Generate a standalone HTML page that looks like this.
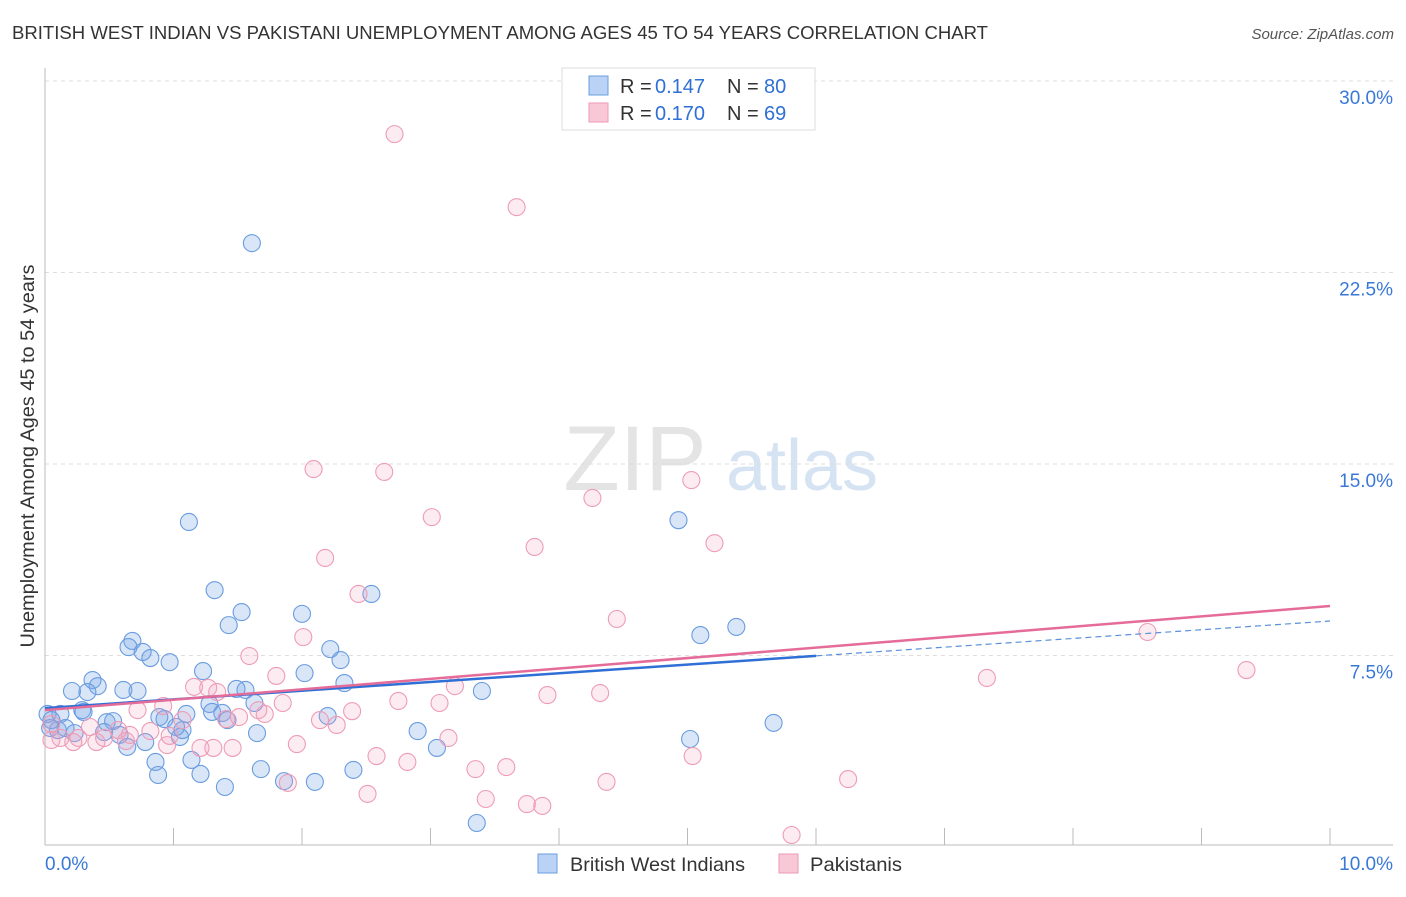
<!DOCTYPE html>
<html><head><meta charset="utf-8"><style>
body{margin:0;background:#fff;font-family:"Liberation Sans",sans-serif}
svg text{font-family:"Liberation Sans",sans-serif}
</style></head><body>
<svg id="chart" width="1406" height="892" xmlns="http://www.w3.org/2000/svg">
<text x="12" y="39" font-size="18.5" fill="#333" textLength="976" lengthAdjust="spacingAndGlyphs">BRITISH WEST INDIAN VS PAKISTANI UNEMPLOYMENT AMONG AGES 45 TO 54 YEARS CORRELATION CHART</text>
<text x="1394" y="39" font-size="15" fill="#555" text-anchor="end" font-style="italic">Source: ZipAtlas.com</text>
<g>
<text x="635" y="490" font-size="92" fill="#e4e4e4" text-anchor="middle" font-family="Liberation Serif">ZIP</text>
<text x="802" y="490" font-size="72" fill="#d6e3f3" text-anchor="middle">atlas</text>
</g>
<g id="grid"></g>
<g id="axes"></g>
<g id="blue"></g>
<g id="pink"></g>
<g id="trends"></g>
<text transform="translate(34,456) rotate(-90)" font-size="19" fill="#333" text-anchor="middle" textLength="383" lengthAdjust="spacingAndGlyphs">Unemployment Among Ages 45 to 54 years</text>
<g>
<rect x="562" y="68" width="253" height="62" fill="#fff" stroke="#ddd"/>
<rect x="589" y="76" width="19" height="19" fill="#b9d2f5" stroke="#6a9ee0"/>
<rect x="589" y="103" width="19" height="19" fill="#f9c8d7" stroke="#ee9ab5"/>
<text y="93" font-size="20" fill="#333"><tspan x="620">R =</tspan><tspan x="655" fill="#2f6fd6">0.147</tspan><tspan x="727">N =</tspan><tspan x="764" fill="#2f6fd6">80</tspan></text>
<text y="120" font-size="20" fill="#333"><tspan x="620">R =</tspan><tspan x="655" fill="#2f6fd6">0.170</tspan><tspan x="727">N =</tspan><tspan x="764" fill="#2f6fd6">69</tspan></text>
</g>
<g>
<rect x="538" y="854" width="19" height="19" fill="#b9d2f5" stroke="#6a9ee0"/>
<text x="570" y="871" font-size="19.5" fill="#333" textLength="175" lengthAdjust="spacingAndGlyphs">British West Indians</text>
<rect x="779" y="854" width="19" height="19" fill="#f9c8d7" stroke="#ee9ab5"/>
<text x="810" y="871" font-size="19.5" fill="#333" textLength="92" lengthAdjust="spacingAndGlyphs">Pakistanis</text>
</g>
</svg>
<script>
const yTicks=[7.5,15,22.5,30];
const yTickLabels=["7.5%","15.0%","22.5%","30.0%"];
const xTicks=[0,1,2,3,4,5,6,7,8,9,10];
const xEndLabels=["0.0%","10.0%"];
const blueX=[1.61,1.12,4.93,1.32,1.43,1.53,2.00,2.54,0.68,0.65,0.76,0.82,0.97,1.23,2.02,2.22,2.30,2.33,0.37,0.41,0.21,0.61,0.72,0.33,1.49,1.56,1.63,1.28,1.30,1.38,1.10,0.93,0.89,0.48,0.53,0.29,0.12,0.02,0.04,0.10,0.30,0.46,0.58,0.64,0.78,1.05,1.07,1.65,1.02,1.14,0.86,0.88,1.21,1.40,1.68,1.86,2.10,2.40,2.90,3.05,3.40,5.10,5.38,5.67,5.02,3.36,2.20,1.42,0.05,0.16,0.23];
const blueY=[23.65,12.73,12.80,10.06,8.69,9.20,9.13,9.91,8.07,7.83,7.64,7.40,7.24,6.89,6.81,7.75,7.32,6.42,6.54,6.30,6.11,6.15,6.11,6.07,6.19,6.15,5.64,5.60,5.29,5.25,5.21,5.01,5.09,4.89,4.93,5.36,5.21,5.21,4.66,4.58,5.29,4.50,4.39,3.92,4.11,4.31,4.58,4.46,4.70,3.41,3.33,2.82,2.86,2.35,3.05,2.58,2.55,3.02,4.54,3.88,6.11,8.30,8.62,4.86,4.23,0.94,5.13,4.97,4.97,4.66,4.46];
const pinkX=[2.72,3.67,2.09,2.64,5.03,4.26,3.01,3.81,5.21,2.18,2.44,4.45,2.01,8.58,9.35,7.33,1.59,1.80,3.19,1.16,1.27,1.34,1.71,1.85,1.66,1.51,1.41,2.75,3.07,3.91,4.32,2.39,2.14,2.27,0.92,0.72,3.14,1.96,2.58,2.82,3.35,3.59,5.04,2.51,3.43,3.75,3.87,4.37,6.25,5.81,1.31,1.46,1.21,0.95,0.82,0.63,0.66,0.40,0.26,0.22,0.12,0.05,0.05,0.35,0.46,1.07,1.89,0.97,0.57];
const pinkY=[27.92,25.06,14.80,14.69,14.37,13.67,12.92,11.75,11.90,11.32,9.91,8.93,8.22,8.42,6.93,6.62,7.48,6.70,6.30,6.27,6.23,6.07,5.21,5.64,5.36,5.09,5.01,5.72,5.64,5.95,6.03,5.32,4.97,4.78,5.52,5.36,4.27,4.03,3.56,3.33,3.05,3.13,3.56,2.08,1.88,1.68,1.61,2.55,2.66,0.47,3.88,3.88,3.88,3.99,4.54,4.15,4.39,4.11,4.27,4.11,4.27,4.19,4.82,4.70,4.27,4.97,2.51,4.35,4.58];
const blueTrend=[5.44,8.85];
const blueSolidEnd=6.0;
const pinkTrend=[5.36,9.44];
const NS="http://www.w3.org/2000/svg";
const X=v=>45+v*128.5, Y=v=>847-v*25.533;
function mk(tag,attrs,parent){const e=document.createElementNS(NS,tag);for(const k in attrs)e.setAttribute(k,attrs[k]);parent.appendChild(e);return e;}
const grid=document.getElementById('grid'),axes=document.getElementById('axes');
yTicks.forEach((t,i)=>{
 const l=mk('line',{x1:45,x2:1393,y1:Y(t),y2:Y(t),stroke:'#ddd','stroke-dasharray':'4,4'},grid);
 
 
 const tx=mk('text',{x:1393,y:Y(t)+23,'font-size':19,fill:'#3a78d8','text-anchor':'end'},grid);
 tx.textContent=yTickLabels[i];
 
 
});
const ax=mk('line',{x1:45,x2:45,y1:68,y2:845,stroke:'#bbb'},axes);


const bx=mk('line',{x1:45,x2:1393,y1:845,y2:845,stroke:'#bbb'},axes);


xTicks.forEach(t=>{
 const l=mk('line',{x1:X(t),x2:X(t),y1:828,y2:845,stroke:'#bbb'},axes);
 
 
});
const xl0=mk('text',{x:45,y:870,'font-size':19,fill:'#3a78d8'},axes);xl0.textContent=xEndLabels[0];


const xl1=mk('text',{x:1393,y:870,'font-size':19,fill:'#3a78d8','text-anchor':'end'},axes);xl1.textContent=xEndLabels[1];


function pts(xs,ys,g,fill,stroke,name){xs.forEach((x,i)=>{
 const c=mk('circle',{cx:X(x),cy:Y(ys[i]),r:8.5,fill:fill,stroke:stroke,'stroke-width':1.1},g);
 
 
});}
pts(blueX,blueY,document.getElementById('blue'),'rgba(120,165,230,0.28)','#6a9ce0','british-west-indian-point');
pts(pinkX,pinkY,document.getElementById('pink'),'rgba(240,160,190,0.2)','#ee9cb6','pakistani-point');
const tr=document.getElementById('trends');
const bAt=v=>blueTrend[0]+(blueTrend[1]-blueTrend[0])*v/10;
const b1=mk('line',{x1:X(0),y1:Y(bAt(0)),x2:X(blueSolidEnd),y2:Y(bAt(blueSolidEnd)),stroke:'#2f6fd6','stroke-width':2.5},tr);


const b2=mk('line',{x1:X(blueSolidEnd),y1:Y(bAt(blueSolidEnd)),x2:X(10),y2:Y(bAt(10)),stroke:'#5b90da','stroke-width':1.2,'stroke-dasharray':'6,4'},tr);


const p1=mk('line',{x1:X(0),y1:Y(pinkTrend[0]),x2:X(10),y2:Y(pinkTrend[1]),stroke:'#e56b98','stroke-width':2.5},tr);


</script>
</body></html>
